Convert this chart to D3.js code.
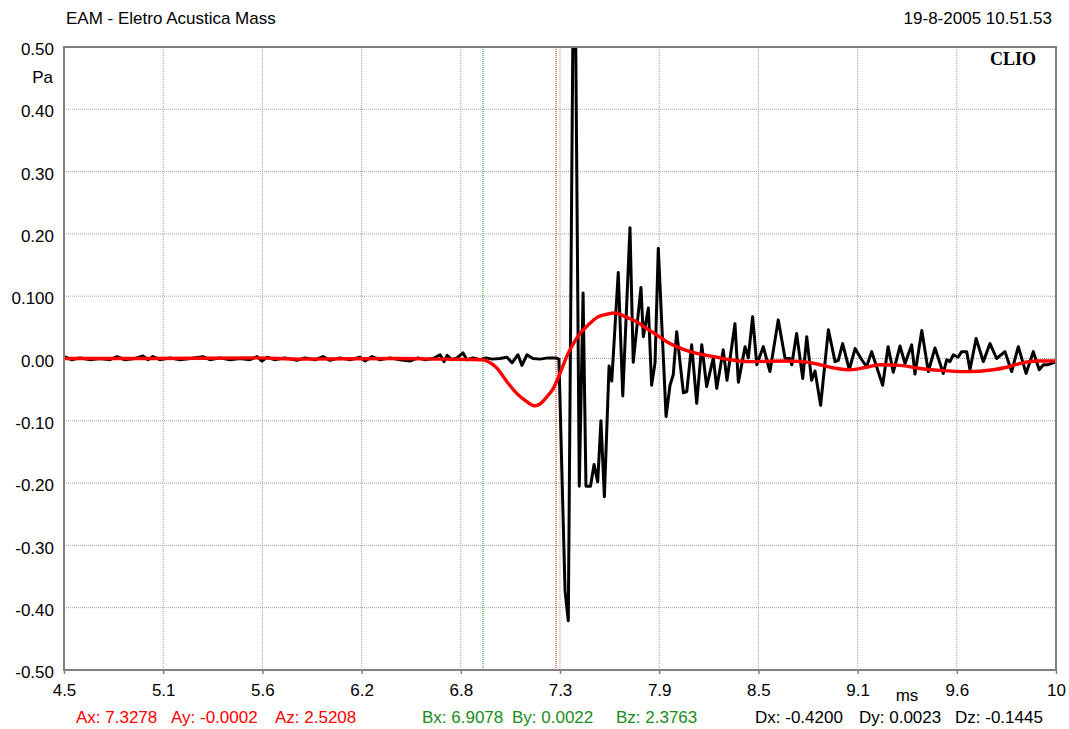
<!DOCTYPE html>
<html>
<head>
<meta charset="utf-8">
<script src="https://cdn.jsdelivr.net/npm/d3@7"></script>
<style>
  html, body { margin: 0; padding: 0; background: #fff; }
  svg { display: block; }
</style>
</head>
<body>
<svg id="chart" width="1069" height="729"></svg>
<script>
// ---- data ----
const title = "EAM - Eletro Acustica Mass";
const dateText = "19-8-2005 10.51.53";
const yUnit = "Pa";
const xUnit = "ms";

const xTickLabels = ["4.5","5.1","5.6","6.2","6.8","7.3","7.9","8.5","9.1","9.6","10"];
const yTickValues = [-0.5,-0.4,-0.3,-0.2,-0.1,0,0.1,0.2,0.3,0.4,0.5];
const yTickLabels = ["-0.50","-0.40","-0.30","-0.20","-0.10","0.00","0.100","0.20","0.30","0.40","0.50"];

// impulse response (black) : time [ms], pressure [Pa]
const blackT = [4.500,4.544,4.589,4.644,4.700,4.755,4.794,4.838,4.894,4.938,4.966,4.993,5.032,5.088,5.143,5.199,5.271,5.309,5.365,5.420,5.476,5.531,5.570,5.598,5.626,5.670,5.725,5.792,5.836,5.892,5.936,5.975,6.030,6.086,6.141,6.169,6.208,6.252,6.307,6.363,6.418,6.463,6.502,6.546,6.585,6.607,6.624,6.651,6.679,6.712,6.734,6.768,6.806,6.840,6.873,6.917,6.956,6.984,7.017,7.039,7.067,7.100,7.139,7.183,7.228,7.244,
  7.278,7.296,7.329,7.357,7.378,7.394,7.419,7.439,7.459,7.477,7.496,7.522,7.537,7.573,7.598,7.638,7.656,7.699,7.712,7.740,7.758,7.777,7.795,7.838,7.860,7.878,7.897,7.934,7.953,7.980,8.008,8.036,8.063,8.100,8.119,8.155,8.176,8.220,8.239,8.276,8.294,8.318,8.341,8.377,8.414,8.460,8.498,8.525,8.535,8.562,8.596,8.618,8.645,8.664,8.695,8.738,8.775,8.793,8.817,8.854,8.886,8.923,8.950,8.978,9.039,9.069,9.098,9.135,9.163,9.200,9.218,9.256,9.292,9.329,9.375,9.394,9.412,9.431,9.457,9.477,9.505,9.523,9.557,9.597,9.634,9.671,9.717,9.754,9.791,9.834,9.874,9.907,9.930,9.957,9.982,10.000];
const blackV = [0.003,-0.002,0.001,-0.002,0.000,-0.002,0.003,-0.002,0.000,0.004,-0.002,0.003,-0.002,0.001,-0.002,0.000,0.003,-0.002,0.001,-0.002,0.000,-0.002,0.003,-0.004,0.002,-0.002,0.001,-0.003,0.001,-0.002,0.003,-0.003,0.001,-0.002,0.002,-0.004,0.003,-0.002,0.001,-0.002,-0.004,0.001,-0.002,0.000,0.006,-0.005,0.005,-0.002,0.001,0.009,-0.002,0.001,-0.002,0.001,-0.001,0.000,0.002,-0.007,0.006,-0.011,0.006,0.000,-0.001,0.001,0.001,-0.001,
  -0.373,-0.421,0.800,-0.205,0.105,-0.205,-0.205,-0.170,-0.198,-0.100,-0.222,-0.012,-0.036,0.138,-0.060,0.210,-0.006,0.114,0.035,0.081,-0.043,-0.007,0.177,-0.093,-0.043,-0.026,0.043,-0.055,-0.053,0.022,-0.072,0.022,-0.045,0.001,-0.048,0.014,-0.035,0.056,-0.038,0.019,0.001,0.067,-0.010,0.019,-0.021,0.062,0.000,0.000,-0.010,0.040,-0.032,0.035,-0.035,-0.020,-0.075,0.046,-0.005,-0.003,0.024,-0.018,0.016,-0.002,-0.013,0.011,-0.043,0.019,-0.022,0.020,-0.008,0.022,-0.025,0.045,-0.021,0.017,-0.024,-0.002,-0.005,0.006,0.002,0.011,0.011,-0.018,0.032,-0.005,0.024,0.000,0.011,-0.021,0.019,-0.024,0.011,-0.018,-0.010,-0.010,-0.007,-0.006];

// smoothed / integrated curve (red)
const redT = [4.500,4.977,5.570,5.808,6.363,6.585,6.823,6.844,6.899,6.955,7.010,7.065,7.111,7.139,7.176,7.213,7.250,7.287,7.324,7.361,7.407,7.462,7.509,7.555,7.620,7.675,7.731,7.786,7.842,7.897,7.971,8.045,8.119,8.193,8.303,8.488,8.597,8.692,8.784,8.858,8.950,9.024,9.135,9.246,9.357,9.505,9.652,9.727,9.801,9.893,10.000];
const redV = [0.000,0.000,0.001,-0.001,0.000,-0.001,-0.002,-0.004,-0.015,-0.037,-0.056,-0.069,-0.076,-0.073,-0.062,-0.048,-0.024,0.003,0.024,0.040,0.054,0.067,0.071,0.073,0.066,0.059,0.048,0.038,0.027,0.019,0.011,0.006,0.002,-0.002,-0.005,-0.004,-0.005,-0.010,-0.016,-0.018,-0.014,-0.010,-0.011,-0.016,-0.019,-0.021,-0.018,-0.014,-0.008,-0.004,-0.004];

// cursors (positions on the time axis as drawn)
const cursorA = 7.228;
const cursorB = 6.823;
const readA = ["Ax: 7.3278", "Ay: -0.0002", "Az: 2.5208"];
const readB = ["Bx: 6.9078", "By: 0.0022", "Bz: 2.3763"];
const readD = ["Dx: -0.4200", "Dy: 0.0023", "Dz: -0.1445"];

// ---- layout ----
const L = 64, R = 1056, T = 47, B = 670;
const SANS = "'Liberation Sans', Arial, Helvetica, sans-serif";
const FS = 17;
const svg = d3.select("#chart");
svg.append("rect").attr("width",1069).attr("height",729).attr("fill","#fff");

const x = d3.scaleLinear().domain([4.5, 10]).range([L, R]);
const y = d3.scaleLinear().domain([-0.5, 0.5]).range([B, T]);
const xTickValues = xTickLabels.map((d,i) => x.invert(L + i*(R-L)/(xTickLabels.length-1)));

svg.append("clipPath").attr("id","clip").append("rect")
  .attr("x",L).attr("y",T).attr("width",R-L).attr("height",B-T);

// grid
const grid = svg.append("g");
grid.selectAll("line.v").data(xTickValues.slice(1,-1)).join("line")
  .attr("x1",d=>x(d)).attr("x2",d=>x(d)).attr("y1",T).attr("y2",B)
  .attr("stroke","#a0a0a0").attr("stroke-width",1).attr("stroke-dasharray","1,1");
grid.selectAll("line.h").data(yTickValues.slice(1,-1)).join("line")
  .attr("y1",d=>y(d)).attr("y2",d=>y(d)).attr("x1",L).attr("x2",R)
  .attr("stroke","#a0a0a0").attr("stroke-width",1).attr("stroke-dasharray","1,1");

// cursors
svg.append("line").attr("x1",x(cursorB)).attr("x2",x(cursorB)).attr("y1",T).attr("y2",B)
  .attr("stroke","#1a8c1a").attr("stroke-width",1).attr("stroke-dasharray","1,1");
svg.append("line").attr("x1",x(cursorA)).attr("x2",x(cursorA)).attr("y1",T).attr("y2",B)
  .attr("stroke","#ff0000").attr("stroke-width",1).attr("stroke-dasharray","1,1");

// curves
const line = d3.line().x(d=>x(d[0])).y(d=>y(d[1]));
const plot = svg.append("g").attr("clip-path","url(#clip)");
plot.append("path").datum(blackT.map((t,i)=>[t,blackV[i]]))
  .attr("d",line).attr("fill","none").attr("stroke","#000").attr("stroke-width",3)
  .attr("stroke-linejoin","round");
plot.append("path").datum(redT.map((t,i)=>[t,redV[i]]))
  .attr("d",d3.line().curve(d3.curveMonotoneX).x(d=>x(d[0])).y(d=>y(d[1])))
  .attr("fill","none").attr("stroke","#ff0000").attr("stroke-width",3.4)
  .attr("stroke-linejoin","round");

// frame
svg.append("rect").attr("x",L).attr("y",T).attr("width",R-L).attr("height",B-T)
  .attr("fill","none").attr("stroke","#808080").attr("stroke-width",2);

// axes
const xAxis = svg.append("g").attr("transform",`translate(0,${B})`)
  .call(d3.axisBottom(x).tickValues(xTickValues).tickFormat((d,i)=>xTickLabels[i]).tickSize(4).tickPadding(10));
xAxis.select(".domain").remove();
xAxis.selectAll("line").attr("stroke","#808080").attr("stroke-width",1.5);
xAxis.selectAll("text").style("font-size",FS+"px").style("font-family",SANS).attr("fill","#000");

const yAxis = svg.append("g").attr("transform",`translate(${L},0)`)
  .call(d3.axisLeft(y).tickValues(yTickValues).tickFormat((d,i)=>yTickLabels[i]).tickSize(0).tickPadding(10));
yAxis.select(".domain").remove();
yAxis.selectAll("text").style("font-size",FS+"px").style("font-family",SANS).attr("fill","#000").attr("dy","0.45em");

// texts
function txt(xp, yp, s, anchor, color) {
  return svg.append("text").attr("x",xp).attr("y",yp).attr("text-anchor",anchor||"start")
    .attr("fill",color||"#000").style("font-family",SANS).style("font-size",FS+"px").text(s);
}
txt(53, 83, yUnit, "end");
txt(907, 701, xUnit, "middle");
txt(66, 24, title);
txt(1052, 24, dateText, "end");
svg.append("text").attr("x",1036).attr("y",65).attr("text-anchor","end")
  .style("font-family","'Liberation Serif', 'Times New Roman', serif").style("font-weight","bold")
  .style("font-size","18px").text("CLIO");

const readY = 723;
const rowA = [76, 171, 275], rowB = [422, 512, 616], rowD = [755, 859, 955];
readA.forEach((s,i)=>txt(rowA[i], readY, s, "start", "#ff0000"));
readB.forEach((s,i)=>txt(rowB[i], readY, s, "start", "#1a8c1a"));
readD.forEach((s,i)=>txt(rowD[i], readY, s, "start", "#000"));
</script>
</body>
</html>
